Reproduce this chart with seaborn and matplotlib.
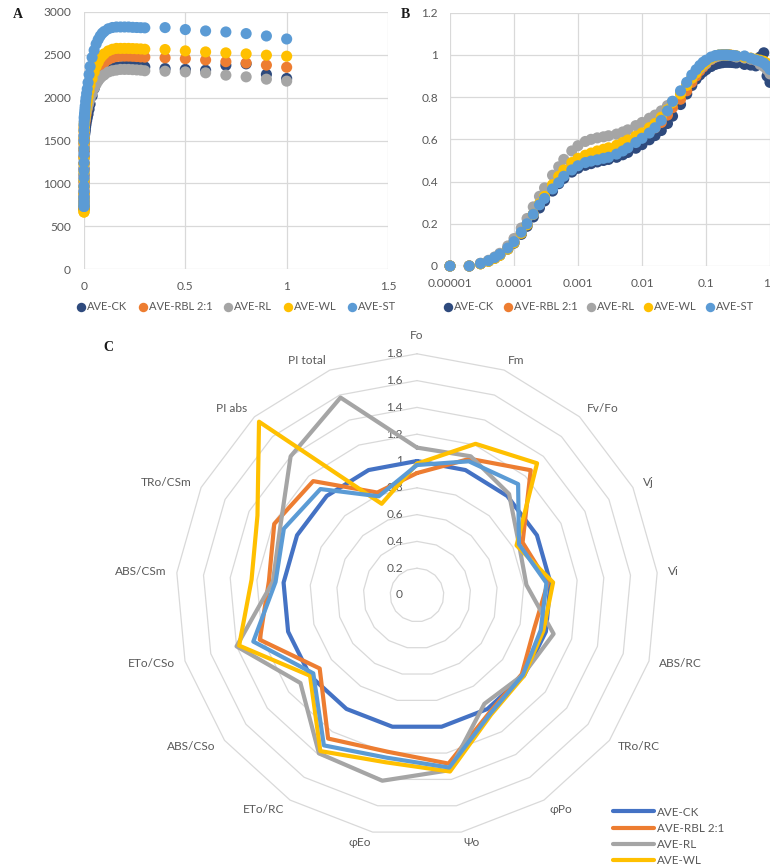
import numpy as np
import pandas as pd
import matplotlib
matplotlib.use("Agg")
import matplotlib.pyplot as plt
from matplotlib.lines import Line2D
from matplotlib.ticker import NullLocator
import seaborn as sns

# ---------------------------------------------------------------- data
SERIES = ["AVE-CK", "AVE-RBL 2:1", "AVE-RL", "AVE-WL", "AVE-ST"]
SCATTER_COLORS = ["#2E4A7D", "#ED7D31", "#A5A5A5", "#FFC000", "#5B9BD5"]
RADAR_COLORS = ["#4472C4", "#ED7D31", "#A5A5A5", "#FFC000", "#5B9BD5"]

# OJIP time points (s)
TIME_S = [1e-5, 2e-5, 3e-5, 4e-5, 5e-5, 6e-5, 8e-5, 1e-4, 1.3e-4, 1.6e-4,
          2e-4, 2.5e-4, 3e-4, 4e-4, 5e-4, 6e-4, 8e-4, 1e-3, 1.3e-3, 1.6e-3,
          2e-3, 2.5e-3, 3e-3, 4e-3, 5e-3, 6e-3, 8e-3, 1e-2, 1.3e-2, 1.6e-2,
          2e-2, 2.5e-2, 3e-2, 4e-2, 5e-2, 6e-2, 7e-2, 8e-2, 9e-2, 0.1,
          0.12, 0.14, 0.16, 0.18, 0.2, 0.22, 0.24, 0.26, 0.28, 0.3,
          0.4, 0.5, 0.6, 0.7, 0.8, 0.9, 1.0]

# raw chlorophyll fluorescence Ft (panel A)
FT_CK = [700, 700, 719, 740, 764, 788, 838, 886, 959, 1024, 1100, 1174, 1231, 1312, 1373,
         1416, 1468, 1499, 1523, 1537, 1550, 1563, 1571, 1588, 1609, 1628, 1663, 1692, 1732,
         1766, 1807, 1864, 1925, 2020, 2106, 2175, 2227, 2261, 2287, 2304, 2330, 2347, 2356,
         2361, 2365, 2365, 2365, 2363, 2361, 2359, 2340, 2330, 2320, 2378, 2395, 2272, 2224]
FT_RBL = [720, 720, 739, 762, 787, 814, 866, 919, 999, 1069, 1152, 1235, 1299, 1391, 1458,
          1509, 1567, 1603, 1629, 1647, 1664, 1677, 1687, 1708, 1730, 1749, 1779, 1805, 1844,
          1876, 1920, 1982, 2044, 2114, 2185, 2256, 2309, 2353, 2384, 2409, 2446, 2467, 2480,
          2485, 2485, 2485, 2483, 2480, 2476, 2473, 2465, 2455, 2440, 2420, 2405, 2380, 2355]
FT_RL = [760, 760, 780, 802, 828, 854, 909, 964, 1043, 1113, 1200, 1278, 1341, 1435, 1498,
         1553, 1616, 1655, 1686, 1702, 1713, 1721, 1729, 1741, 1757, 1773, 1804, 1828, 1859,
         1883, 1914, 1953, 1985, 2047, 2110, 2157, 2197, 2228, 2252, 2267, 2299, 2314, 2322,
         2330, 2330, 2330, 2327, 2324, 2321, 2314, 2309, 2301, 2290, 2263, 2243, 2216, 2193]
FT_WL = [665, 665, 684, 707, 734, 761, 818, 875, 961, 1037, 1133, 1228, 1295, 1400, 1477,
         1534, 1601, 1639, 1668, 1687, 1706, 1721, 1735, 1758, 1782, 1805, 1840, 1868, 1916,
         1954, 2012, 2078, 2145, 2222, 2298, 2365, 2413, 2460, 2489, 2512, 2546, 2565, 2575,
         2575, 2575, 2575, 2573, 2571, 2569, 2565, 2562, 2546, 2534, 2523, 2511, 2496, 2484]
FT_ST = [730, 730, 755, 782, 814, 845, 908, 971, 1065, 1149, 1243, 1338, 1400, 1495, 1558,
         1620, 1683, 1725, 1757, 1771, 1784, 1798, 1809, 1840, 1872, 1903, 1956, 1997, 2050,
         2102, 2176, 2270, 2364, 2469, 2553, 2626, 2678, 2720, 2752, 2773, 2804, 2819, 2825,
         2825, 2825, 2825, 2821, 2819, 2817, 2815, 2818, 2795, 2779, 2767, 2748, 2720, 2685]

# relative variable fluorescence Vt (panel B)
VT_CK = [0, 0, 0.011, 0.023, 0.037, 0.051, 0.08, 0.108, 0.15, 0.188, 0.232, 0.275, 0.308,
         0.355, 0.39, 0.415, 0.445, 0.463, 0.477, 0.485, 0.493, 0.5, 0.505, 0.515, 0.527,
         0.538, 0.558, 0.575, 0.598, 0.618, 0.642, 0.675, 0.71, 0.765, 0.815, 0.855, 0.885,
         0.905, 0.92, 0.93, 0.945, 0.955, 0.96, 0.963, 0.965, 0.965, 0.965, 0.964, 0.963,
         0.962, 0.955, 0.952, 0.948, 0.99, 1.01, 0.9, 0.87]
VT_RBL = [0, 0, 0.011, 0.024, 0.038, 0.053, 0.083, 0.113, 0.158, 0.198, 0.245, 0.292, 0.328,
          0.38, 0.418, 0.447, 0.48, 0.5, 0.515, 0.525, 0.535, 0.542, 0.548, 0.56, 0.572,
          0.583, 0.6, 0.615, 0.637, 0.655, 0.68, 0.715, 0.75, 0.79, 0.83, 0.87, 0.9,
          0.925, 0.943, 0.957, 0.978, 0.99, 0.997, 1.0, 1.0, 1.0, 0.999, 0.997, 0.995,
          0.993, 0.988, 0.982, 0.975, 0.965, 0.958, 0.945, 0.93]
VT_RL = [0, 0, 0.013, 0.027, 0.043, 0.06, 0.095, 0.13, 0.18, 0.225, 0.28, 0.33, 0.37,
         0.43, 0.47, 0.505, 0.545, 0.57, 0.59, 0.6, 0.607, 0.612, 0.617, 0.625, 0.635,
         0.645, 0.665, 0.68, 0.7, 0.715, 0.735, 0.76, 0.78, 0.82, 0.86, 0.89, 0.915,
         0.935, 0.95, 0.96, 0.98, 0.99, 0.995, 1.0, 1.0, 1.0, 0.998, 0.996, 0.994,
         0.99, 0.985, 0.98, 0.975, 0.955, 0.945, 0.93, 0.91]
VT_WL = [0, 0, 0.01, 0.022, 0.036, 0.05, 0.08, 0.11, 0.155, 0.195, 0.245, 0.295, 0.33,
         0.385, 0.425, 0.455, 0.49, 0.51, 0.525, 0.535, 0.545, 0.553, 0.56, 0.572, 0.585,
         0.597, 0.615, 0.63, 0.655, 0.675, 0.705, 0.74, 0.775, 0.815, 0.855, 0.89, 0.915,
         0.94, 0.955, 0.967, 0.985, 0.995, 1.0, 1.0, 1.0, 1.0, 0.999, 0.998, 0.997,
         0.995, 0.99, 0.985, 0.98, 0.975, 0.97, 0.96, 0.95]
VT_ST = [0, 0, 0.012, 0.025, 0.04, 0.055, 0.085, 0.115, 0.16, 0.2, 0.245, 0.29, 0.32,
         0.365, 0.395, 0.425, 0.455, 0.475, 0.49, 0.497, 0.503, 0.51, 0.515, 0.53, 0.545,
         0.56, 0.585, 0.605, 0.63, 0.655, 0.69, 0.735, 0.78, 0.83, 0.87, 0.905, 0.93,
         0.95, 0.965, 0.975, 0.99, 0.997, 1.0, 1.0, 1.0, 1.0, 0.998, 0.997, 0.996,
         0.995, 0.995, 0.984, 0.976, 0.97, 0.961, 0.948, 0.931]

A_XTICKS = [0, 0.5, 1, 1.5]
A_XTICK_LABELS = ["0", "0.5", "1", "1.5"]
A_YTICKS = [0, 500, 1000, 1500, 2000, 2500, 3000]
A_YTICK_LABELS = ["0", "500", "1000", "1500", "2000", "2500", "3000"]
B_XTICKS = [1e-5, 1e-4, 1e-3, 1e-2, 1e-1, 1]
B_XTICK_LABELS = ["0.00001", "0.0001", "0.001", "0.01", "0.1", "1"]
B_YTICKS = [0, 0.2, 0.4, 0.6, 0.8, 1.0, 1.2]
B_YTICK_LABELS = ["0", "0.2", "0.4", "0.6", "0.8", "1", "1.2"]

# JIP-test parameters relative to control (panel C)
RADAR_LABELS = ["Fo", "Fm", "Fv/Fo", "Vj", "Vi", "ABS/RC", "TRo/RC", "φPo", "Ψo", "φEo",
                "ETo/RC", "ABS/CSo", "ETo/CSo", "ABS/CSm", "TRo/CSm", "PI abs", "PI total"]
RADAR_CK = [1.0, 1.0, 1.0, 1.0, 1.0, 1.0, 1.0, 1.0, 1.0, 1.0, 1.0, 1.0, 1.0, 1.0, 1.0, 1.0, 1.0]
RADAR_RBL = [0.91, 1.09, 1.26, 0.88, 0.98, 0.91, 0.98, 1.03, 1.28, 1.19, 1.26, 0.91, 1.22,
             1.11, 1.19, 1.15, 0.82]
RADAR_RL = [1.10, 1.11, 1.02, 0.85, 0.82, 1.06, 0.99, 0.955, 1.33, 1.41, 1.39, 1.09, 1.40,
            1.08, 1.14, 1.40, 1.58]
RADAR_WL = [0.98, 1.21, 1.33, 0.83, 1.02, 0.98, 1.00, 1.05, 1.34, 1.27, 1.37, 1.00, 1.38,
            1.24, 1.33, 1.75, 0.73]
RADAR_ST = [0.97, 1.07, 1.12, 0.85, 0.97, 0.96, 0.99, 1.04, 1.31, 1.235, 1.32, 0.97, 1.27,
            1.06, 1.11, 1.07, 0.79]
RADAR_RINGS = [0.2, 0.4, 0.6, 0.8, 1.0, 1.2, 1.4, 1.6, 1.8]
RADAR_RING_LABELS = ["0", "0.2", "0.4", "0.6", "0.8", "1", "1.2", "1.4", "1.6", "1.8"]
# the radar key lists the first four treatments
RADAR_KEY = ["AVE-CK", "AVE-RBL 2:1", "AVE-RL", "AVE-WL"]

# ---------------------------------------------------------------- style
sns.set_style("white")
plt.rcParams["font.family"] = ["Lato", "DejaVu Sans"]
TXT = "#595959"
GRID = "#D9D9D9"

W, H = 770, 867
fig = plt.figure(figsize=(W / 100, H / 100), dpi=100)


def box(l, t, r, b):
    return [l / W, 1 - b / H, (r - l) / W, (b - t) / H]


def long_frame(values):
    frames = []
    for name, vals in zip(SERIES, values):
        frames.append(pd.DataFrame({"t": TIME_S, "v": vals, "series": name}))
    return pd.concat(frames, ignore_index=True)


def style_axes(ax):
    for s in ax.spines.values():
        s.set_visible(False)
    ax.grid(True, color=GRID, linewidth=0.9)
    ax.set_axisbelow(True)
    ax.set_xlabel("")
    ax.set_ylabel("")


# ---------------------------------------------------------------- panel A
ax_a = fig.add_axes(box(84, 12, 388, 269))
sns.scatterplot(data=long_frame([FT_CK, FT_RBL, FT_RL, FT_WL, FT_ST]), x="t", y="v",
                hue="series", hue_order=SERIES, palette=SCATTER_COLORS, s=64,
                linewidth=0, legend=False, ax=ax_a, clip_on=False, zorder=3)
ax_a.set_xlim(0, 1.5)
ax_a.set_ylim(0, 3000)
ax_a.set_xticks(A_XTICKS)
ax_a.set_xticklabels(A_XTICK_LABELS)
ax_a.set_yticks(A_YTICKS)
ax_a.set_yticklabels(A_YTICK_LABELS)
style_axes(ax_a)
ax_a.tick_params(axis="both", length=0, labelsize=8.6, colors=TXT)
ax_a.tick_params(axis="y", pad=9.4)
ax_a.tick_params(axis="x", pad=8.4)

# ---------------------------------------------------------------- panel B
ax_b = fig.add_axes(box(450, 12.7, 770, 266))
sns.scatterplot(data=long_frame([VT_CK, VT_RBL, VT_RL, VT_WL, VT_ST]), x="t", y="v",
                hue="series", hue_order=SERIES, palette=SCATTER_COLORS, s=64,
                linewidth=0, legend=False, ax=ax_b, clip_on=False, zorder=3)
ax_b.set_xscale("log")
ax_b.set_xlim(1e-5, 1)
ax_b.set_ylim(0, 1.2)
ax_b.set_xticks(B_XTICKS)
ax_b.set_xticklabels(B_XTICK_LABELS)
ax_b.xaxis.set_minor_locator(NullLocator())
ax_b.set_yticks(B_YTICKS)
ax_b.set_yticklabels(B_YTICK_LABELS)
style_axes(ax_b)
ax_b.tick_params(axis="both", length=0, labelsize=8.6, colors=TXT)
ax_b.tick_params(axis="y", pad=8.6)
ax_b.tick_params(axis="x", pad=8.4)
# keep the last decade label inside the canvas
ax_b.get_xticklabels()[-1].set_horizontalalignment("right")

# legends under A and B
marker_handles = [Line2D([], [], marker="o", linestyle="none", markersize=6.8,
                         markerfacecolor=c, markeredgewidth=0) for c in SCATTER_COLORS]
for left, colsp in ((76.5, 1.0), (443.5, 0.8)):
    fig.legend(marker_handles, SERIES, loc="center left",
               bbox_to_anchor=(left / W, 1 - 307 / H), ncol=5, frameon=False,
               borderpad=0, borderaxespad=0, handlelength=0.8, handletextpad=0.15,
               columnspacing=colsp, fontsize=8, labelcolor=TXT)

# ---------------------------------------------------------------- panel C (radar)
ax_c = fig.add_axes(box(140, 318, 694, 872))
half = 277 / 134
ax_c.set_xlim(-half, half)
ax_c.set_ylim(-half, half)
ax_c.axis("off")

n_ax = len(RADAR_LABELS)
theta = np.arange(n_ax) * 2 * np.pi / n_ax
closed = np.append(theta, theta[0])
for r in RADAR_RINGS:
    ax_c.plot(r * np.sin(closed), r * np.cos(closed), color=GRID, linewidth=0.9, zorder=1)
for r, lab in zip([0.0] + RADAR_RINGS, RADAR_RING_LABELS):
    ax_c.text(-0.105, r, lab, ha="right", va="center", fontsize=8.6, color=TXT)

for ang, lab in zip(theta, RADAR_LABELS):
    s, c = np.sin(ang), np.cos(ang)
    if abs(s) < 0.05:
        ax_c.text(0, 1.895, lab, ha="center", va="bottom", fontsize=8.6, color=TXT)
        continue
    ha = "left" if s > 0 else "right"
    ax_c.text(1.88 * s, 1.88 * c, lab, ha=ha, va="center", fontsize=8.6, color=TXT)

radar_rows = []
for name, vals in zip(SERIES, [RADAR_CK, RADAR_RBL, RADAR_RL, RADAR_WL, RADAR_ST]):
    v = np.append(vals, vals[0])
    radar_rows.append(pd.DataFrame({"x": v * np.sin(closed), "y": v * np.cos(closed),
                                    "series": name}))
radar_df = pd.concat(radar_rows, ignore_index=True)
sns.lineplot(data=radar_df, x="x", y="y", hue="series", hue_order=SERIES,
             palette=RADAR_COLORS, sort=False, estimator=None, linewidth=3.0,
             solid_joinstyle="round", legend=False, ax=ax_c, zorder=3)
ax_c.set_xlabel("")
ax_c.set_ylabel("")

line_handles = [Line2D([], [], color=c, linewidth=3.0)
                for c, name in zip(RADAR_COLORS, SERIES) if name in RADAR_KEY]
fig.legend(line_handles, RADAR_KEY, loc="upper left",
           bbox_to_anchor=(613 / W, 1 - 806.5 / H), ncol=1, frameon=False,
           borderpad=0, borderaxespad=0, handlelength=3.5, handletextpad=0.3,
           labelspacing=0.45, fontsize=8.4, labelcolor=TXT)

# panel letters
for x, y, letter in [(18, 15, "A"), (405, 15, "B"), (108, 348, "C")]:
    fig.text(x / W, 1 - y / H, letter, ha="center", va="center", fontsize=10,
             fontweight="bold", family="Liberation Serif", color="#1a1a1a")

fig.savefig("out.png", dpi=100)
